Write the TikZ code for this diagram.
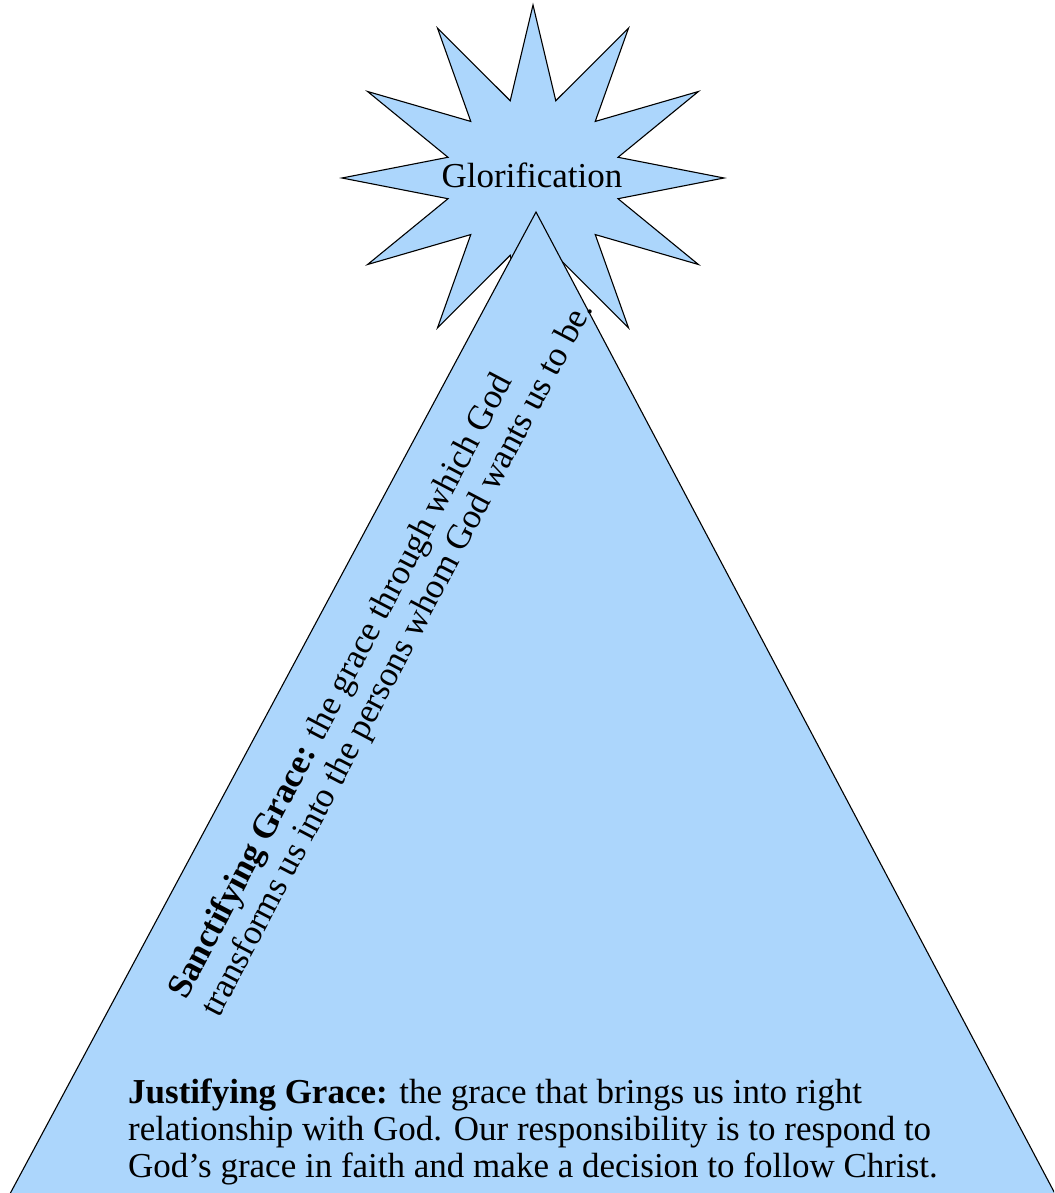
\documentclass[tikz,border=0pt]{standalone}
\usepackage{fontspec}
\setmainfont{Liberation Serif}
\definecolor{gracefill}{RGB}{172,214,252}
\begin{document}
\begin{tikzpicture}[x=1pt,y=-1pt,
  shapeline/.style={draw=black,line width=1.1pt,fill=gracefill,line join=miter},
  bodytext/.style={font=\fontsize{35}{37.5}\selectfont,inner sep=0pt}]
\path[use as bounding box] (0,0) rectangle (1054,1193);
\clip (0,0) rectangle (1054,1193);
% star
\draw[shapeline] plot[samples at={0,...,23},variable=\k]
  ({533+ifthenelse(mod(\k,2)==0,191,88)*cos(90+15*\k)},
   {178-ifthenelse(mod(\k,2)==0,173,80)*sin(90+15*\k)}) -- cycle;
% triangle
\coordinate (apex) at (536,212);
\coordinate (bl) at (4,1205);
\coordinate (br) at (1061,1205);
\draw[shapeline] (apex) -- (br) -- (bl) -- cycle;
% texts
\node[bodytext,anchor=base] (glor) at (532,187) {Glorification};
\node[bodytext,rotate=62.2,anchor=base west] (sanc1) at (186,1001)
  {\textbf{Sanctifying Grace:} the grace through which God};
\node[bodytext,rotate=62.2,anchor=base west] (sanc2) at (219,1018.5)
  {transforms us into the persons whom God wants us to be.};
\node[bodytext,anchor=base west] (just1) at (128,1103)
  {\textbf{Justifying Grace:} the grace that brings us into right};
\node[bodytext,anchor=base west] (just2) at (128,1140)
  {relationship with God. Our responsibility is to respond to};
\node[bodytext,anchor=base west] (just3) at (128,1177)
  {God’s grace in faith and make a decision to follow Christ.};
\end{tikzpicture}
\end{document}
